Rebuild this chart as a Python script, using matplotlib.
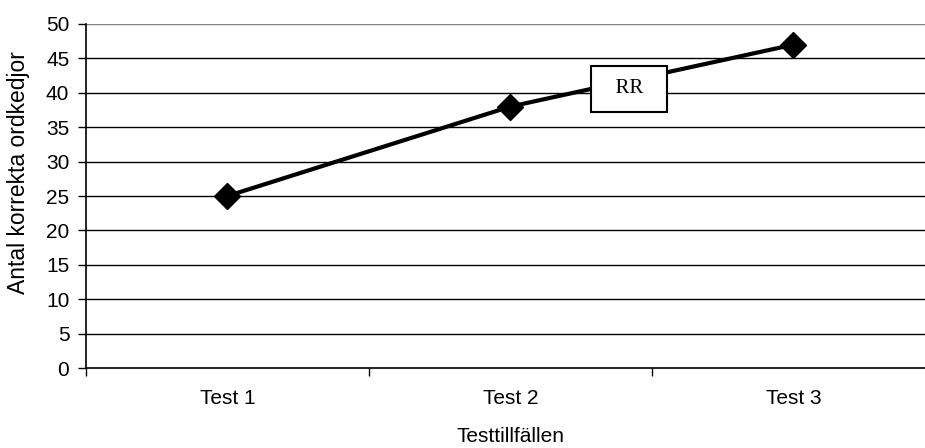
import matplotlib
matplotlib.use("Agg")
import matplotlib.pyplot as plt

categories = ["Test 1", "Test 2", "Test 3"]
values = [25, 38, 47]
series_label = "RR"
y_ticks = list(range(0, 55, 5))

plt.rcParams["font.family"] = ["Liberation Sans", "DejaVu Sans"]

fig = plt.figure(figsize=(9.25, 4.48), dpi=100)
ax = fig.add_axes([86 / 925, 80 / 448, 849 / 925, 344 / 448])

x = list(range(len(categories)))
ax.plot(x, values, color="black", lw=3, marker="D", markersize=13,
        markerfacecolor="black", markeredgecolor="black", zorder=3)

ax.set_xlim(-0.5, len(categories) - 0.5)
ax.set_ylim(0, 50)
ax.set_yticks(y_ticks)
ax.set_yticklabels([str(t) for t in y_ticks], fontsize=15)
ax.set_xticks(x)
ax.set_xticklabels(categories, fontsize=15)
ax.set_xticks([i + 0.5 for i in range(-1, len(categories))], minor=True)
ax.tick_params(axis="x", which="major", length=0, pad=15)
ax.tick_params(axis="x", which="minor", length=6, width=1, direction="out")
ax.tick_params(axis="y", length=6, width=1, direction="out", pad=6)

for t in y_ticks[1:]:
    ax.axhline(t, color="#808080" if t == 50 else "black", lw=1, zorder=1)

for side in ["top", "right"]:
    ax.spines[side].set_visible(False)
ax.spines["left"].set_linewidth(1.2)
ax.spines["bottom"].set_linewidth(1.2)

ax.set_ylabel("Antal korrekta ordkedjor", fontsize=16.5)
ax.yaxis.set_label_coords(-0.066, 0.567)
ax.set_xlabel("Testtillfällen", fontsize=15, labelpad=14)

ax.text(1.42, 40.6, f"  {series_label}  ", fontsize=15, family="Liberation Serif",
        ha="center", va="center", zorder=4,
        bbox=dict(boxstyle="square,pad=0.65", facecolor="white",
                  edgecolor="black", lw=1.5))

fig.savefig("out.png", dpi=100)
